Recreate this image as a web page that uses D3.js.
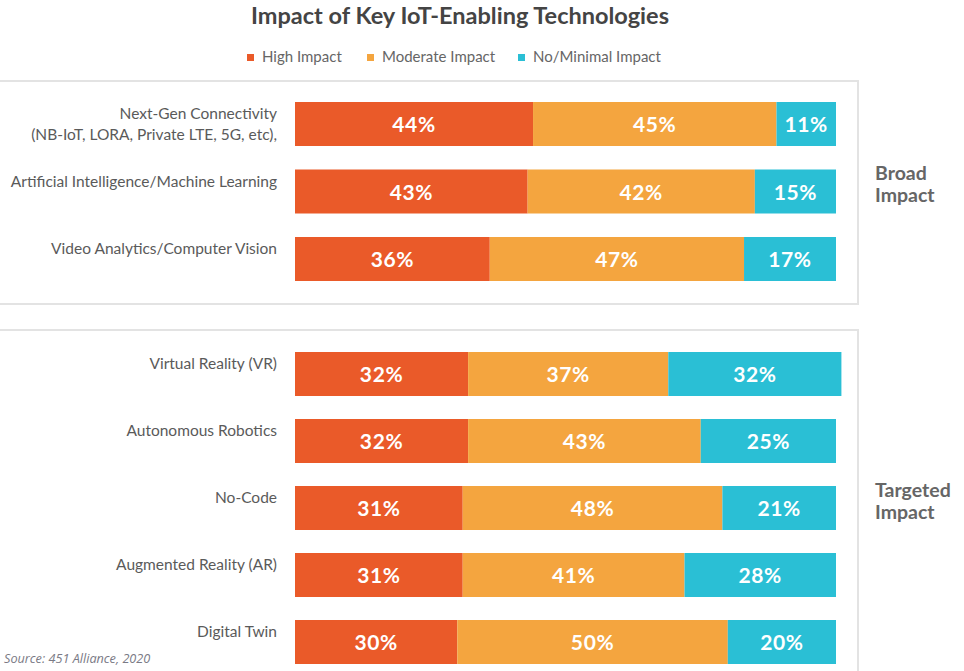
<!DOCTYPE html>
<html>
<head>
<meta charset="utf-8">
<script src="https://cdn.jsdelivr.net/npm/d3@7"></script>
<style>
  html, body { margin: 0; padding: 0; background: #fff; }
  svg { display: block; }
</style>
</head>
<body>
<svg id="chart" width="964" height="671"></svg>
<script>
const title = "Impact of Key IoT-Enabling Technologies";
const seriesNames = ["High Impact", "Moderate Impact", "No/Minimal Impact"];
const seriesColors = ["#EA5A29", "#F4A53F", "#2ABFD5"];
const categories = [
  ["Next-Gen Connectivity", "(NB-IoT, LORA, Private LTE, 5G, etc),"],
  ["Artificial Intelligence/Machine Learning"],
  ["Video Analytics/Computer Vision"],
  ["Virtual Reality (VR)"],
  ["Autonomous Robotics"],
  ["No-Code"],
  ["Augmented Reality (AR)"],
  ["Digital Twin"]
];
const groupOf = ["broad", "broad", "broad", "targeted", "targeted", "targeted", "targeted", "targeted"];
const groupLabels = { broad: ["Broad", "Impact"], targeted: ["Targeted", "Impact"] };
const high = [44, 43, 36, 32, 32, 31, 31, 30];
const moderate = [45, 42, 47, 37, 43, 48, 41, 50];
const minimal = [11, 15, 17, 32, 25, 21, 28, 20];
const sourceText = "Source: 451 Alliance, 2020";

const svg = d3.select("#chart");
const font = "Lato, 'Open Sans', sans-serif";

const x = d3.scaleLinear().domain([0, 100]).range([295, 836]);
const idx = d3.range(categories.length);
const broadIdx = idx.filter(i => groupOf[i] === "broad");
const targIdx = idx.filter(i => groupOf[i] === "targeted");
const yBroad = d3.scalePoint().domain(broadIdx).range([124, 259]);
const yTarg = d3.scalePoint().domain(targIdx).range([374, 642]);
const yc = i => groupOf[i] === "broad" ? yBroad(i) : yTarg(i);
const barH = 44;

// Panels
const panel = svg.append("g").attr("fill", "none").attr("stroke", "#e3e3e3").attr("stroke-width", 2);
panel.append("path").attr("d", "M-5,81H858V304H-5");
panel.append("path").attr("d", "M-5,330H858V680");

// Title
svg.append("text")
  .attr("x", 460).attr("y", 24)
  .attr("text-anchor", "middle")
  .attr("font-family", font).attr("font-weight", 700).attr("font-size", 23.5)
  .attr("fill", "#444")
  .text(title);

// Legend
const legendX = [247, 367, 518];
const lg = svg.append("g");
seriesNames.forEach((s, k) => {
  lg.append("rect").attr("x", legendX[k]).attr("y", 54).attr("width", 7).attr("height", 7).attr("fill", seriesColors[k]);
  lg.append("text").attr("x", legendX[k] + 15).attr("y", 62)
    .attr("font-family", font).attr("font-size", 15).attr("fill", "#666").text(s);
});

// Category labels
const labels = svg.append("g").attr("font-family", font).attr("font-size", 15.5).attr("fill", "#5a5a5a").attr("text-anchor", "end");
idx.forEach(i => {
  const lines = categories[i];
  const t = labels.append("text").attr("x", 277).attr("y", yc(i) - 5);
  lines.forEach((ln, j) => {
    t.append("tspan").attr("x", 277).attr("dy", j === 0 ? 0 : 21).text(ln);
  });
});

// Bars
const series = [high, moderate, minimal];
const bars = svg.append("g");
idx.forEach(i => {
  let acc = 0;
  series.forEach((arr, k) => {
    const v = arr[i];
    const x0 = x(acc), x1 = x(acc + v);
    bars.append("rect")
      .attr("x", x0).attr("y", yc(i) - barH / 2)
      .attr("width", x1 - x0).attr("height", barH)
      .attr("fill", seriesColors[k]);
    bars.append("text")
      .attr("x", (x0 + x1) / 2).attr("y", yc(i) + 8)
      .attr("text-anchor", "middle")
      .attr("font-family", font).attr("font-weight", 700).attr("font-size", 21)
      .attr("letter-spacing", 0.6)
      .attr("fill", "#fff")
      .text(v + "%");
    acc += v;
  });
});

// Group labels (two separate lines)
const groupY = { broad: 180, targeted: 497 };
Object.keys(groupLabels).forEach(g => {
  groupLabels[g].forEach((ln, j) => {
    svg.append("text").attr("x", 875).attr("y", groupY[g] + j * 22)
      .attr("font-family", font).attr("font-weight", 700).attr("font-size", 19.5).attr("fill", "#666")
      .text(ln);
  });
});

// Source
svg.append("text").attr("x", 4).attr("y", 663)
  .attr("font-family", "'Open Sans', sans-serif").attr("font-style", "italic").attr("font-size", 12.7)
  .attr("fill", "#7a7a85").text(sourceText);
</script>
</body>
</html>
